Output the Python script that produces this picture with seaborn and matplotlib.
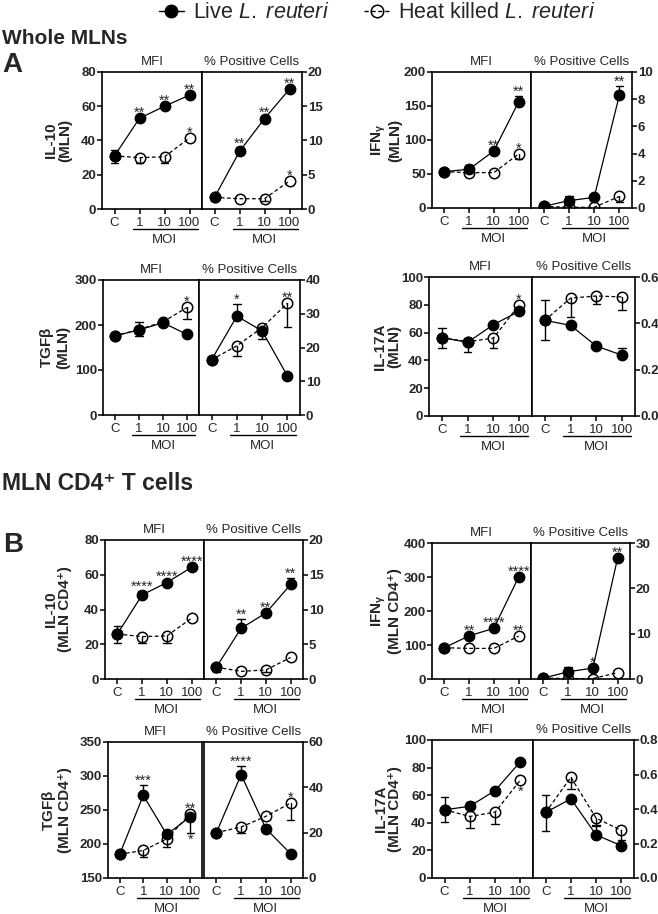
import numpy as np
import pandas as pd
import seaborn as sns
import matplotlib.pyplot as plt
import matplotlib.ticker as mticker
import matplotlib.transforms as mtransforms
from matplotlib.lines import Line2D

sns.set_theme(style="ticks")
plt.rcParams['font.family'] = ['Liberation Sans', 'DejaVu Sans']
plt.rcParams['mathtext.fontset'] = 'custom'
plt.rcParams['mathtext.rm'] = 'Liberation Sans'
plt.rcParams['mathtext.it'] = 'Liberation Sans:italic'
plt.rcParams['mathtext.bf'] = 'Liberation Sans:bold'

MOI = ["C", "1", "10", "100"]

# each array: [live, heat killed]
# Whole MLNs
IL10_MLN_MFI = [[31, 53, 60, 66.5], [31, 30, 30.5, 41.5]]
IL10_MLN_MFI_LO = [[4, 0, 0, 0], [0, 3, 3.5, 0]]
IL10_MLN_MFI_HI = [[3.5, 0, 0, 0], [0, 0, 0, 0]]
IL10_MLN_MFI_SIG = [["", "**", "**", "**"], ["", "", "", "*"]]
IL10_MLN_PCT = [[1.7, 8.4, 13.2, 17.5], [1.7, 1.5, 1.5, 4.1]]
IL10_MLN_PCT_LO = [[0.5, 0, 0, 0], [0, 0, 0.4, 0]]
IL10_MLN_PCT_HI = [[0.5, 0.6, 0, 0], [0, 0, 0, 0]]
IL10_MLN_PCT_SIG = [["", "**", "**", "**"], ["", "", "", "*"]]

IFNG_MLN_MFI = [[53.5, 57, 84, 156], [53.5, 52, 52, 79.5]]
IFNG_MLN_MFI_LO = [[0, 0, 0, 0], [0, 0, 0, 8]]
IFNG_MLN_MFI_HI = [[0, 6, 0, 9], [0, 0, 0, 0]]
IFNG_MLN_MFI_SIG = [["", "", "**", "**"], ["", "", "", "*"]]
IFNG_MLN_PCT = [[0.12, 0.54, 0.78, 8.3], [0.12, 0.05, 0.05, 0.85]]
IFNG_MLN_PCT_LO = [[0, 0, 0, 0], [0, 0, 0, 0.4]]
IFNG_MLN_PCT_HI = [[0, 0.32, 0, 0.65], [0, 0, 0, 0]]
IFNG_MLN_PCT_SIG = [["", "", "", "**"], ["", "", "", ""]]

TGFB_MLN_MFI = [[176, 189, 205, 179], [176, 190, 207, 239]]
TGFB_MLN_MFI_LO = [[0, 13, 0, 0], [0, 0, 0, 26]]
TGFB_MLN_MFI_HI = [[0, 17, 0, 0], [0, 0, 0, 0]]
TGFB_MLN_MFI_SIG = [["", "", "", ""], ["", "", "", "*"]]
TGFB_MLN_PCT = [[16.4, 29.3, 24.9, 11.6], [16.4, 20.5, 25.9, 33.1]]
TGFB_MLN_PCT_LO = [[1, 0, 2.4, 0], [0, 3, 0, 7]]
TGFB_MLN_PCT_HI = [[1, 3.6, 0, 0], [0, 0, 0, 0]]
TGFB_MLN_PCT_SIG = [["", "*", "", ""], ["", "", "", "**"]]

IL17_MLN_MFI = [[56.4, 53, 65.7, 75.3], [56.4, 53.5, 56, 80]]
IL17_MLN_MFI_LO = [[7.4, 7, 0, 0], [0, 0, 7, 0]]
IL17_MLN_MFI_HI = [[7.1, 0, 0, 0], [0, 0, 0, 0]]
IL17_MLN_MFI_SIG = [["", "", "", ""], ["", "", "", "*"]]
IL17_MLN_PCT = [[0.413, 0.391, 0.302, 0.262], [0.413, 0.509, 0.518, 0.514]]
IL17_MLN_PCT_LO = [[0.086, 0, 0, 0], [0, 0.082, 0.036, 0.055]]
IL17_MLN_PCT_HI = [[0.087, 0, 0, 0.032], [0, 0, 0, 0]]
IL17_MLN_PCT_SIG = [["", "", "", ""], ["", "", "", ""]]

# MLN CD4+ T cells
IL10_CD4_MFI = [[25.9, 48.4, 55.5, 64.3], [25.9, 24.4, 24.8, 35]]
IL10_CD4_MFI_LO = [[4.9, 0, 0, 0], [0, 3.9, 3.8, 0]]
IL10_CD4_MFI_HI = [[4.8, 2.3, 0, 0], [0, 0, 0, 0]]
IL10_CD4_MFI_SIG = [["", "****", "****", "****"], ["", "", "", ""]]
IL10_CD4_PCT = [[1.7, 7.3, 9.5, 13.6], [1.7, 1.1, 1.3, 3.1]]
IL10_CD4_PCT_LO = [[0.7, 0, 0, 0], [0, 0, 0.35, 0]]
IL10_CD4_PCT_HI = [[0.5, 1.3, 0, 0.9], [0, 0, 0, 0]]
IL10_CD4_PCT_SIG = [["", "**", "**", "**"], ["", "", "", ""]]

IFNG_CD4_MFI = [[92, 127, 149, 300], [92, 90, 90, 126]]
IFNG_CD4_MFI_LO = [[0, 0, 0, 0], [0, 0, 0, 0]]
IFNG_CD4_MFI_HI = [[0, 0, 0, 0], [0, 0, 0, 0]]
IFNG_CD4_MFI_SIG = [["", "**", "****", "****"], ["", "", "", "**"]]
IFNG_CD4_PCT = [[0.2, 1.6, 2.4, 26.7], [0.2, 0.1, 0.1, 1.4]]
IFNG_CD4_PCT_LO = [[0, 0, 0, 0], [0, 0, 0, 0]]
IFNG_CD4_PCT_HI = [[0, 1.1, 0, 0], [0, 0, 0, 0]]
IFNG_CD4_PCT_SIG = [["", "", "*", "**"], ["", "", "", ""]]

TGFB_CD4_MFI = [[185, 271.5, 214, 240], [185, 190.5, 207.5, 244.5]]
TGFB_CD4_MFI_LO = [[0, 0, 0, 24], [0, 9, 12, 0]]
TGFB_CD4_MFI_HI = [[0, 16, 0, 0], [0, 0, 0, 0]]
TGFB_CD4_MFI_SIG = [["", "***", "", "_*"], ["", "", "", "**"]]
TGFB_CD4_PCT = [[20, 45.6, 21.8, 10.7], [20, 22.5, 27.2, 33.1]]
TGFB_CD4_PCT_LO = [[0, 0, 0, 0], [0, 2.6, 0, 7.4]]
TGFB_CD4_PCT_HI = [[0, 4, 1.4, 0], [0, 0, 0, 0]]
TGFB_CD4_PCT_SIG = [["", "****", "", ""], ["", "", "", "*"]]

IL17_CD4_MFI = [[49.4, 52, 63.4, 84.3], [49.4, 44.6, 47.7, 71]]
IL17_CD4_MFI_LO = [[9, 0, 0, 0], [0, 8.6, 8.4, 0]]
IL17_CD4_MFI_HI = [[9.1, 3, 0, 0], [0, 0, 0, 0]]
IL17_CD4_MFI_SIG = [["", "", "", ""], ["", "", "", "_*"]]
IL17_CD4_PCT = [[0.38, 0.459, 0.25, 0.187], [0.38, 0.584, 0.347, 0.276]]
IL17_CD4_PCT_LO = [[0.11, 0, 0, 0], [0, 0.069, 0.047, 0.054]]
IL17_CD4_PCT_HI = [[0.1, 0, 0.055, 0], [0, 0, 0, 0]]
IL17_CD4_PCT_SIG = [["", "", "", ""], ["", "", "", ""]]

W, H = 658, 914
fig = plt.figure(figsize=(W / 100, H / 100), dpi=100)
fig.patch.set_facecolor("white")

GAM = "$\\mathregular{_γ}$"
BET = "$\\mathregular{β}$"

# (ylabel, label offset px, (left, mid1, mid2, right, top, bottom) px, mfi side, pct side)
PANELS = [
    ("IL-10\n(MLN)", 30, (102, 202, 202, 302, 72, 209),
     (IL10_MLN_MFI, IL10_MLN_MFI_LO, IL10_MLN_MFI_HI, IL10_MLN_MFI_SIG, (0, 80), 20, "%d"),
     (IL10_MLN_PCT, IL10_MLN_PCT_LO, IL10_MLN_PCT_HI, IL10_MLN_PCT_SIG, (0, 20), 5, "%d")),
    ("IFN" + GAM + "\n(MLN)", 30, (432, 531, 531, 632, 72, 208),
     (IFNG_MLN_MFI, IFNG_MLN_MFI_LO, IFNG_MLN_MFI_HI, IFNG_MLN_MFI_SIG, (0, 200), 50, "%d"),
     (IFNG_MLN_PCT, IFNG_MLN_PCT_LO, IFNG_MLN_PCT_HI, IFNG_MLN_PCT_SIG, (0, 10), 2, "%d")),
    ("TGF" + BET + "\n(MLN)", 33, (103, 199, 199, 300, 280, 415),
     (TGFB_MLN_MFI, TGFB_MLN_MFI_LO, TGFB_MLN_MFI_HI, TGFB_MLN_MFI_SIG, (0, 300), 100, "%d"),
     (TGFB_MLN_PCT, TGFB_MLN_PCT_LO, TGFB_MLN_PCT_HI, TGFB_MLN_PCT_SIG, (0, 40), 10, "%d")),
    ("IL-17A\n(MLN)", 28, (429, 532, 532, 635, 277, 416),
     (IL17_MLN_MFI, IL17_MLN_MFI_LO, IL17_MLN_MFI_HI, IL17_MLN_MFI_SIG, (0, 100), 20, "%d"),
     (IL17_MLN_PCT, IL17_MLN_PCT_LO, IL17_MLN_PCT_HI, IL17_MLN_PCT_SIG, (0, 0.6), 0.2, "%.1f")),
    ("IL-10\n(MLN CD4⁺)", 33, (105, 204, 204, 303, 540, 679),
     (IL10_CD4_MFI, IL10_CD4_MFI_LO, IL10_CD4_MFI_HI, IL10_CD4_MFI_SIG, (0, 80), 20, "%d"),
     (IL10_CD4_PCT, IL10_CD4_PCT_LO, IL10_CD4_PCT_HI, IL10_CD4_PCT_SIG, (0, 20), 5, "%d")),
    ("IFN" + GAM + "\n(MLN CD4⁺)", 30, (432, 531, 531, 630, 543, 679),
     (IFNG_CD4_MFI, IFNG_CD4_MFI_LO, IFNG_CD4_MFI_HI, IFNG_CD4_MFI_SIG, (0, 400), 100, "%d"),
     (IFNG_CD4_PCT, IFNG_CD4_PCT_LO, IFNG_CD4_PCT_HI, IFNG_CD4_PCT_SIG, (0, 30), 10, "%d")),
    ("TGF" + BET + "\n(MLN CD4⁺)", 36, (108, 202, 204, 303, 742, 878),
     (TGFB_CD4_MFI, TGFB_CD4_MFI_LO, TGFB_CD4_MFI_HI, TGFB_CD4_MFI_SIG, (150, 350), 50, "%d"),
     (TGFB_CD4_PCT, TGFB_CD4_PCT_LO, TGFB_CD4_PCT_HI, TGFB_CD4_PCT_SIG, (0, 60), 20, "%d")),
    ("IL-17A\n(MLN CD4⁺)", 30, (432, 533, 533, 634, 740, 878),
     (IL17_CD4_MFI, IL17_CD4_MFI_LO, IL17_CD4_MFI_HI, IL17_CD4_MFI_SIG, (0, 100), 20, "%d"),
     (IL17_CD4_PCT, IL17_CD4_PCT_LO, IL17_CD4_PCT_HI, IL17_CD4_PCT_SIG, (0, 0.8), 0.2, "%.1f")),
]


def box(l, r, t, b):
    return [l / W, 1 - b / H, (r - l) / W, (b - t) / H]


def draw_side(ax, means, lo, hi, sig, ylim, step, fmt, title, right):
    x = np.arange(len(MOI))
    # error bars (one-sided, like the original)
    for m, l, h in zip(means, lo, hi):
        for xi, mi, li, hv in zip(x, m, l, h):
            ends = ([mi - li] if li > 0 else []) + ([mi + hv] if hv > 0 else [])
            for e in ends:
                ax.plot([xi, xi], [mi, e], color="black", lw=1.0, zorder=2)
                ax.plot([xi - 0.15, xi + 0.15], [e, e], color="black", lw=1.0, zorder=2)

    hk = pd.DataFrame({"moi": x, "value": means[1]})
    live = pd.DataFrame({"moi": x, "value": means[0]})
    sns.lineplot(data=hk, x="moi", y="value", ax=ax, color="black", lw=0.9,
                 linestyle=(0, (3, 2)), marker="o", markersize=7.5,
                 markerfacecolor="none", markeredgecolor="black",
                 markeredgewidth=1.1, zorder=3)
    sns.lineplot(data=live, x="moi", y="value", ax=ax, color="black", lw=0.9,
                 marker="o", markersize=7.5, markerfacecolor="black",
                 markeredgecolor="black", markeredgewidth=1.0, zorder=4)

    # significance stars
    for m, l, h, s in zip(means, lo, hi, sig):
        for xi, mi, li, hv, si in zip(x, m, l, h, s):
            if not si:
                continue
            if si.startswith("_"):
                ax.annotate(si[1:], (xi, mi - li), xytext=(0, -3.7 if li == 0 else 0),
                            textcoords="offset points", ha="center", va="top",
                            fontsize=10.5, annotation_clip=False)
            else:
                ax.annotate(si, (xi, mi + hv), xytext=(0, 0 if hv > 0 else 1),
                            textcoords="offset points", ha="center", va="baseline",
                            fontsize=10.5, annotation_clip=False)

    ax.set_xlim(-0.5, 3.5)
    ax.set_xticks(x)
    ax.set_xticklabels(MOI)
    ax.set_ylim(*ylim)
    ax.set_yticks(np.arange(ylim[0], ylim[1] + step / 2, step))
    ax.yaxis.set_major_formatter(mticker.FormatStrFormatter(fmt))
    ax.set_xlabel("")
    ax.set_ylabel("")
    ax.set_title(title, fontsize=9.5, pad=5)
    for sp in ax.spines.values():
        sp.set_linewidth(1.2)
        sp.set_color("black")
    ax.tick_params(axis="both", length=3.5, width=1.1, color="black")
    ax.tick_params(axis="x", labelsize=9.5, pad=2)
    ax.tick_params(axis="y", labelsize=9.5, pad=0.8)
    if right:
        ax.yaxis.tick_right()
    plt.setp(ax.get_yticklabels(), fontweight="bold")

    # MOI underline
    tr = mtransforms.offset_copy(ax.get_xaxis_transform(), fig=fig, y=-20, units="dots")
    ax.plot([0.72, 3.35], [0, 0], transform=tr, color="black", lw=1.0, clip_on=False)
    tr2 = mtransforms.offset_copy(ax.get_xaxis_transform(), fig=fig, y=-31, units="dots")
    ax.text(2.0, 0, "MOI", transform=tr2, ha="center", va="center", fontsize=9.5)


for ylabel, off, (l, m1, m2, r, t, b), mfi, pct in PANELS:
    ax1 = fig.add_axes(box(l, m1, t, b))
    ax2 = fig.add_axes(box(m2, r, t, b))
    draw_side(ax1, *mfi, "MFI", False)
    draw_side(ax2, *pct, "% Positive Cells", True)
    ax1.set_ylabel(ylabel, fontsize=11, fontweight="bold", linespacing=1.0)
    ax1.yaxis.set_label_coords(-off / (m1 - l), 0.5)

fig.text(2 / W, 1 - 38 / H, "Whole MLNs", fontsize=15, fontweight="bold", va="center")
fig.text(2 / W, 1 - 65 / H, "A", fontsize=20, fontweight="bold", va="center")
fig.text(2 / W, 1 - 483 / H, "MLN CD4⁺ T cells", fontsize=16.5, fontweight="bold", va="center")
fig.text(3 / W, 1 - 545 / H, "B", fontsize=20, fontweight="bold", va="center")

handles = [
    Line2D([], [], color="black", lw=1.0, marker="o", markersize=9, markerfacecolor="black"),
    Line2D([], [], color="black", lw=1.0, linestyle=(0, (3, 2)), marker="o", markersize=9,
           markerfacecolor="none", markeredgecolor="black", markeredgewidth=1.1),
]
labels = ["Live $\\mathit{L.\\ reuteri}$", "Heat killed $\\mathit{L.\\ reuteri}$"]
fig.legend(handles, labels, loc="center", bbox_to_anchor=(377 / W, 1 - 13 / H), ncol=2,
           frameon=False, fontsize=15.5, handlelength=1.2, handletextpad=0.4,
           columnspacing=1.6, borderaxespad=0)

fig.savefig("out.png", dpi=100, facecolor="white")
